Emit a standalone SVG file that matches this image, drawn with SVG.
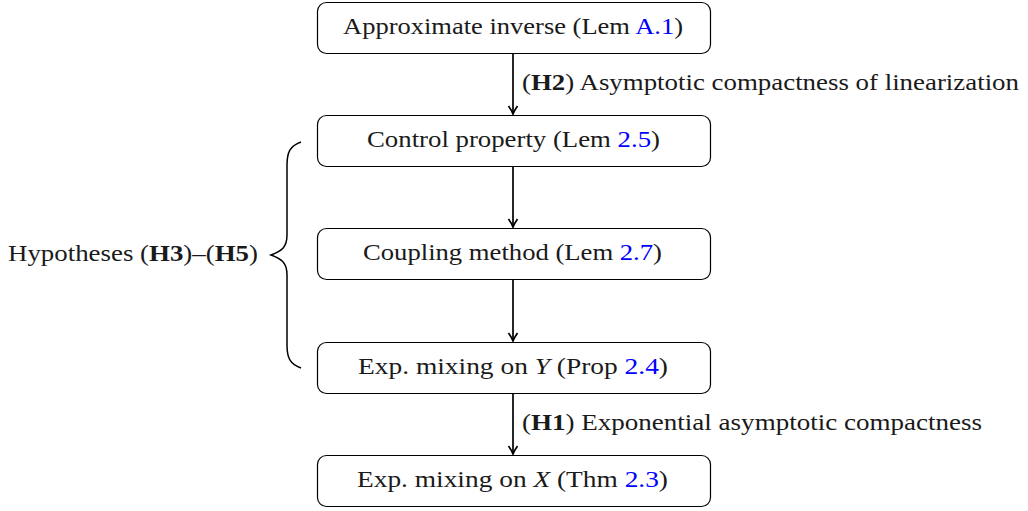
<svg xmlns="http://www.w3.org/2000/svg" width="1028" height="511" viewBox="0 0 1028 511">
<style>
.box{fill:#fff;stroke:#000;stroke-width:1.2}
.t{font-family:"Liberation Serif","DejaVu Serif",serif;font-size:22.5px;fill:#1a1a1a}
.ref{fill:#0000ff}
.c{stroke:#000;stroke-width:1.7;fill:none}
</style>
<defs>
<marker id="ah" markerWidth="12" markerHeight="12" refX="9" refY="6" orient="auto" markerUnits="userSpaceOnUse">
<path d="M1,1.5 Q6,5 9,6 Q6,7 1,10.5" fill="none" stroke="#000" stroke-width="1.7"/>
</marker>
</defs>
<g id="connectors">
<line class="c" x1="513" y1="53" x2="513" y2="114" marker-end="url(#ah)"/>
<line class="c" x1="513" y1="167" x2="513" y2="227" marker-end="url(#ah)"/>
<line class="c" x1="513" y1="280" x2="513" y2="341" marker-end="url(#ah)"/>
<line class="c" x1="513" y1="394" x2="513" y2="454" marker-end="url(#ah)"/>
<text class="t" x="522" y="90" textLength="497" lengthAdjust="spacingAndGlyphs">(<tspan font-weight="bold">H2</tspan>) Asymptotic compactness of linearization</text>
<text class="t" x="522" y="430" textLength="460" lengthAdjust="spacingAndGlyphs">(<tspan font-weight="bold">H1</tspan>) Exponential asymptotic compactness</text>
</g>
<g id="n1">
<rect class="box" x="317.5" y="2.5" width="393" height="51" rx="9"/>
<text class="t" x="343" y="34" textLength="340" lengthAdjust="spacingAndGlyphs">Approximate inverse (Lem <tspan class="ref">A.1</tspan>)</text>
</g>
<g id="n2">
<rect class="box" x="317.5" y="115.5" width="393" height="51" rx="9"/>
<text class="t" x="367" y="147" textLength="293" lengthAdjust="spacingAndGlyphs">Control property (Lem <tspan class="ref">2.5</tspan>)</text>
</g>
<g id="n3">
<rect class="box" x="317.5" y="228.5" width="393" height="51" rx="9"/>
<text class="t" x="363" y="260" textLength="299" lengthAdjust="spacingAndGlyphs">Coupling method (Lem <tspan class="ref">2.7</tspan>)</text>
</g>
<g id="n4">
<rect class="box" x="317.5" y="342.5" width="393" height="51" rx="9"/>
<text class="t" x="358" y="374" textLength="310" lengthAdjust="spacingAndGlyphs">Exp. mixing on <tspan font-style="italic">Y</tspan> (Prop <tspan class="ref">2.4</tspan>)</text>
</g>
<g id="n5">
<rect class="box" x="317.5" y="455.5" width="393" height="51" rx="9"/>
<text class="t" x="357" y="487" textLength="311" lengthAdjust="spacingAndGlyphs">Exp. mixing on <tspan font-style="italic">X</tspan> (Thm <tspan class="ref">2.3</tspan>)</text>
</g>
<g id="brace">
<path d="M301,142 C290,146 287,152 287,165 L287,235 C287,247 282,251 271,255 C282,259 287,263 287,275 L287,345 C287,358 290,364 301,368" fill="none" stroke="#000" stroke-width="1.5"/>
<text class="t" x="8" y="261" textLength="250" lengthAdjust="spacingAndGlyphs">Hypotheses (<tspan font-weight="bold">H3</tspan>)–(<tspan font-weight="bold">H5</tspan>)</text>
</g>
</svg>
